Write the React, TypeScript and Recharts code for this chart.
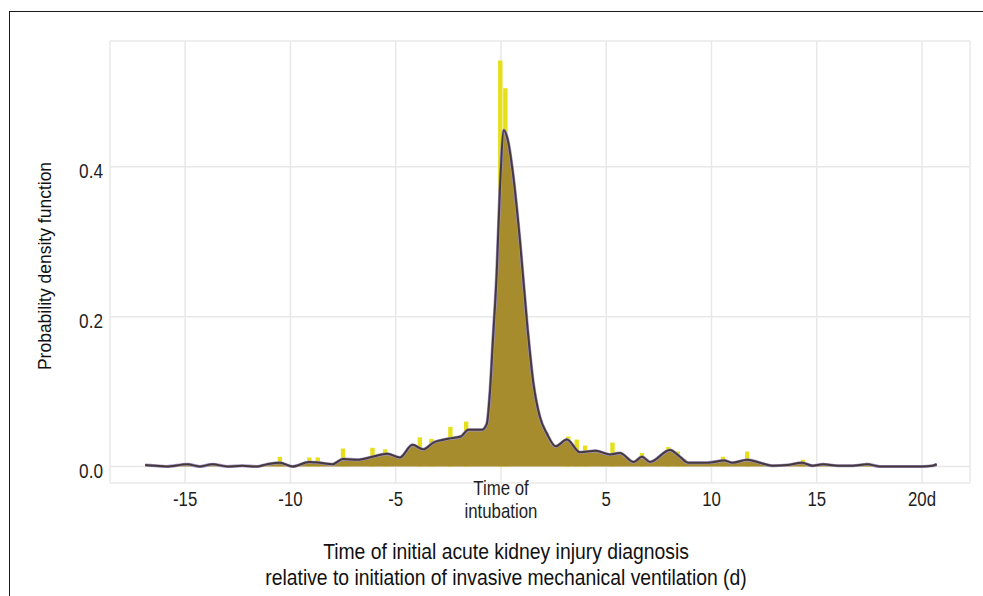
import { Area, Bar, CartesianGrid, ComposedChart, Line, XAxis, YAxis } from "recharts";

// density curve (days relative to intubation)
const densityDays = [
  -16.9, -16.4, -15.9, -14.9, -14.3, -13.7, -13.0, -12.3, -11.6, -11.1, -10.5, -9.9, -9.1, -8.6, -8.0,
  -7.5, -6.8, -6.1, -5.4, -4.8, -4.2, -3.7, -3.2, -2.5, -1.9, -1.55, -0.9, -0.67, -0.52, -0.38, -0.2,
  -0.05, 0.14, 0.33, 0.57, 0.9, 1.24, 1.53, 1.85, 2.18, 2.6, 3.13, 3.75, 4.5, 5.18, 5.65, 6.3, 6.7,
  7.08, 8.03, 8.5, 8.9, 9.8, 10.6, 11.0, 11.7, 12.3, 12.9, 13.6, 14.3, 14.8, 15.3, 16.0, 16.7, 17.4,
  18.0, 19.0, 20.0, 20.5, 20.7
];
const densityValues = [
  0.002, 0.001, 0.0, 0.003, 0.0, 0.003, 0.0, 0.001, 0.0, 0.003, 0.005, 0.0, 0.006, 0.005, 0.003,
  0.01, 0.009, 0.013, 0.017, 0.012, 0.029, 0.023, 0.032, 0.037, 0.04, 0.049, 0.049, 0.057, 0.1, 0.169, 0.258,
  0.369, 0.449, 0.435, 0.391, 0.302, 0.191, 0.113, 0.066, 0.044, 0.027, 0.036, 0.019, 0.021, 0.016, 0.018, 0.006, 0.013,
  0.006, 0.022, 0.013, 0.005, 0.005, 0.008, 0.005, 0.009, 0.005, 0.001, 0.002, 0.005, 0.001, 0.003, 0.001, 0.001, 0.003,
  0.0, 0.0, 0.0, 0.001, 0.003
];

// histogram bins that show above the curve
const histDays = [
  -10.5, -9.1, -8.7, -7.5, -6.1, -5.5, -3.85, -3.3, -2.4, -1.65, -0.03, 0.21, 3.2, 3.6, 4.0, 5.3, 6.7,
  7.95, 8.4, 8.7, 10.55, 11.7, 14.35, 17.4
];
const histValues = [
  0.013, 0.012, 0.012, 0.024, 0.025, 0.023, 0.039, 0.037, 0.053, 0.06, 0.542, 0.505, 0.04, 0.036, 0.028, 0.032, 0.018,
  0.026, 0.02, 0.01, 0.013, 0.02, 0.009, 0.005
];

const xTicks = [-15, -10, -5, 0, 5, 10, 15, 20];
const yTicks = [0, 0.2, 0.4];

type Row = { day: number; density?: number; hist?: number };

const rows: Row[] = (() => {
  const m = new Map<number, Row>();
  densityDays.forEach((d, i) => m.set(d, { day: d, density: densityValues[i] }));
  histDays.forEach((d, i) => {
    const r = m.get(d) ?? { day: d };
    r.hist = histValues[i];
    m.set(d, r);
  });
  return [...m.values()].sort((a, b) => a.day - b.day);
})();

const font = "'Liberation Sans', Arial, sans-serif";
const squeeze = "scale(0.82,1)";

const HistBar = (props: any) => {
  const { x, y, width, height, fill } = props;
  if (height == null || height <= 0) return null;
  const cx = x + width / 2;
  return <rect x={cx - 2.2} y={y} width={4.4} height={height} fill={fill} />;
};

const XTick = ({ x, y, payload }: any) => {
  const v = payload.value;
  return (
    <g transform={`translate(${x},${y})`}>
      <g transform={squeeze}>
        {v === 0 ? (
          <text textAnchor="middle" fontSize={20.5} fontFamily={font} fill="#1e1e1e">
            <tspan x={0} y={12}>Time of</tspan>
            <tspan x={0} y={35}>intubation</tspan>
          </text>
        ) : (
          <text x={0} y={23} textAnchor="middle" fontSize={20.5} fontFamily={font} fill="#1e1e1e">
            {v === 20 ? "20d" : String(v)}
          </text>
        )}
      </g>
    </g>
  );
};

const YTick = ({ x, y, payload }: any) => (
  <g transform={`translate(${x},${y})`}>
    <g transform={squeeze}>
      <text x={0} y={11} textAnchor="end" fontSize={21} fontFamily={font} fill="#1e1e1e">
        {payload.value.toFixed(1)}
      </text>
    </g>
  </g>
);

export default function App() {
  return (
    <div style={{ position: "absolute", left: 0, top: 0, width: 983, height: 596, background: "#fff", overflow: "hidden" }}>
      <div
        style={{
          position: "absolute",
          left: 9,
          top: 11,
          width: 1000,
          height: 620,
          borderLeft: "1.5px solid #1a1a1a",
          borderTop: "1.5px solid #1a1a1a"
        }}
      />
      <ComposedChart width={983} height={596} data={rows} margin={{ top: 41, right: 13, bottom: 112, left: 109 }}>
        <CartesianGrid stroke="#e8e8e8" strokeWidth={1.5} />
        <XAxis
          dataKey="day"
          type="number"
          domain={[-18.57, 22.28]}
          ticks={xTicks}
          allowDataOverflow
          axisLine={false}
          tickLine={false}
          tickSize={0}
          tickMargin={0}
          height={1}
          interval={0}
          tick={<XTick />}
        />
        <YAxis
          type="number"
          domain={[-0.022, 0.568]}
          ticks={yTicks}
          allowDataOverflow
          axisLine={false}
          tickLine={false}
          tickSize={0}
          tickMargin={7}
          width={1}
          interval={0}
          tick={<YTick />}
        />
        <Bar dataKey="hist" fill="#e6e01a" barSize={4} shape={<HistBar />} isAnimationActive={false} zIndex={50} />
        <Area
          dataKey="density"
          type="monotone"
          fill="#a68c2d"
          fillOpacity={1}
          stroke="none"
          connectNulls
          isAnimationActive={false}
          zIndex={100}
        />
        <Line
          dataKey="density"
          type="monotone"
          stroke="#a595c8"
          strokeWidth={3.2}
          dot={false}
          activeDot={false}
          connectNulls
          isAnimationActive={false}
          zIndex={150}
        />
        <Line
          dataKey="density"
          type="monotone"
          stroke="#443a3b"
          strokeWidth={2}
          dot={false}
          activeDot={false}
          connectNulls
          isAnimationActive={false}
          zIndex={160}
        />
      </ComposedChart>
      <svg width={983} height={596} style={{ position: "absolute", left: 0, top: 0, pointerEvents: "none" }}>
        <text
          transform="translate(51,266) rotate(-90)"
          textAnchor="middle"
          fontSize={17.5}
          fontFamily={font}
          fill="#111"
        >
          Probability density function
        </text>
        <g transform="translate(506,0)">
          <g transform="scale(0.9,1)">
            <text x={0} y={559} textAnchor="middle" fontSize={21.5} fontFamily={font} fill="#111">
              Time of initial acute kidney injury diagnosis
            </text>
            <text x={0} y={585} textAnchor="middle" fontSize={21.5} fontFamily={font} fill="#111">
              relative to initiation of invasive mechanical ventilation (d)
            </text>
          </g>
        </g>
      </svg>
    </div>
  );
}
